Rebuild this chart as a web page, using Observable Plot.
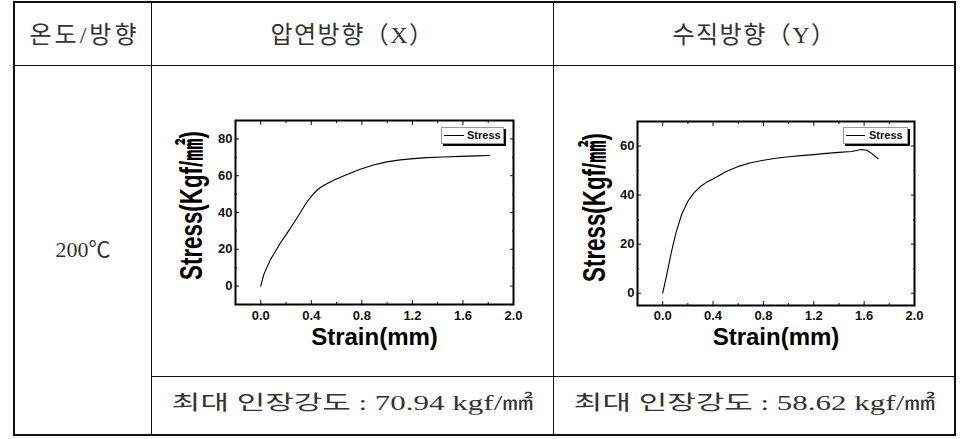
<!DOCTYPE html>
<html><head><meta charset="utf-8">
<script src="https://cdn.jsdelivr.net/npm/d3@7"></script>
<script src="https://cdn.jsdelivr.net/npm/@observablehq/plot@0.6"></script>
<style>
body{margin:0;background:#fff;width:977px;height:439px;overflow:hidden;position:relative;}
.ln{position:absolute;background:#111;}
.cell{position:absolute;display:flex;align-items:center;justify-content:center;font-family:"Liberation Serif","Noto Sans CJK KR",serif;color:#333;white-space:nowrap;}
.chart{position:absolute;overflow:visible;}
.legend{position:absolute;height:15px;border:1px solid #999;box-shadow:2px 2px 0 #000;background:#fff;font:bold 11px "Liberation Sans",sans-serif;color:#111;}
.legend .sw{position:absolute;top:7px;height:1px;background:#000;}
.legend .tx{position:absolute;top:0;line-height:15px;}
</style></head><body>
<div id="root"></div>
<script>
// ---- data ----
const headers = ["온도/방향", "압연방향（X）", "수직방향（Y）"];
const rowLabel = "200℃";
const captions = ["최대 인장강도 : 70.94 kgf/㎟", "최대 인장강도 : 58.62 kgf/㎟"];
const xTicks = [0, 0.4, 0.8, 1.2, 1.6, 2.0];
const xMinor = [-0.2, 0.2, 0.6, 1.0, 1.4, 1.8];
const yTicksX = [0, 20, 40, 60, 80];
const yMinorX = [-10, 10, 30, 50, 70, 90];
const yTicksY = [0, 20, 40, 60];
const yMinorY = [10, 30, 50, 70];
const strainX = [0, 0.024, 0.076, 0.1, 0.155, 0.2, 0.234, 0.3, 0.366, 0.405, 0.45, 0.5, 0.576, 0.682, 0.787, 0.892, 0.997, 1.103, 1.208, 1.313, 1.445, 1.576, 1.708, 1.81];
const stressX = [0, 6.3, 14.4, 17, 23.4, 28, 31.4, 38.5, 45.8, 49.2, 52.5, 54.8, 57.5, 60.7, 63.5, 65.8, 67.5, 68.6, 69.3, 69.8, 70.2, 70.5, 70.8, 70.94];
const strainY = [0, 0.03, 0.07, 0.105, 0.15, 0.2, 0.25, 0.3, 0.35, 0.4, 0.5, 0.6, 0.7, 0.8, 0.9, 1.0, 1.1, 1.2, 1.3, 1.4, 1.5, 1.58, 1.62, 1.66, 1.71];
const stressY = [0, 7, 17, 24.5, 32, 37.5, 41, 43.5, 45.3, 46.6, 49.5, 51.7, 53.2, 54.2, 55, 55.6, 56.1, 56.5, 57, 57.4, 57.8, 58.62, 58.3, 57, 54.8];

const root = document.getElementById("root");
function line(l, t, w, h) {
  const d = document.createElement("div"); d.className = "ln";
  Object.assign(d.style, {left: l + "px", top: t + "px", width: w + "px", height: h + "px"});
  root.appendChild(d);
}
function cell(text, l, t, w, h, fs, extra) {
  const d = document.createElement("div"); d.className = "cell";
  Object.assign(d.style, {left: l + "px", top: t + "px", width: w + "px", height: h + "px", fontSize: fs + "px"});
  const s = document.createElement("span"); s.textContent = text;
  Object.assign(s.style, extra || {});
  d.appendChild(s);
  root.appendChild(d);
  return s;
}
// table lines
line(13, 1, 943, 2);   // top
line(13, 434, 943, 2); // bottom
line(13, 1, 2, 435);   // left
line(954, 1, 2, 435);  // right
line(13, 65, 943, 1);
line(151, 1, 1, 435);
line(553, 1, 1, 435);
line(151, 376, 805, 1);
// texts
cell(headers[0], 15, 12, 136, 40, 24, {letterSpacing: "3px", marginRight: "-3px"});
cell(headers[1], 152, 12, 401, 40, 24, {letterSpacing: "1.5px"});
cell(headers[2], 554, 12, 401, 40, 24, {letterSpacing: "1.5px"});
cell(rowLabel, 15, 227, 136, 40, 22);
const c1 = cell(captions[0], 152, 381, 401, 40, 20);
const c2 = cell(captions[1], 554, 381, 401, 40, 20);
[c1, c2].forEach(s => { s.style.display = "inline-block"; s.style.transform = "scaleX(1.55)"; });

function chart(strain, stress, yDomain, yTicks, yMinor, pos, m, labelShift, pad) {
  const data = strain.map((s, i) => ({strain: s, stress: stress[i]}));
  const svg = Plot.plot({
    width: 380, height: 260,
    marginLeft: m[0], marginRight: m[1], marginTop: m[2], marginBottom: m[3],
    x: {domain: [-0.2, 2.0]},
    y: {domain: yDomain},
    style: {fontFamily: "Liberation Sans, sans-serif", fontSize: "12px", fontWeight: "bold", color: "#111", background: "transparent"},
    marks: [
      Plot.axisX(xTicks, {anchor: "bottom", tickSize: -4, tickPadding: pad, tickFormat: d3.format(".1f"), fontSize: 13, fontWeight: "bold", label: null}),
      Plot.axisX(xMinor, {anchor: "bottom", tickSize: -2, tickFormat: () => "", label: null}),
      Plot.axisX(xTicks, {anchor: "top", tickSize: -4, tickFormat: () => "", label: null}),
      Plot.axisX(xMinor, {anchor: "top", tickSize: -2, tickFormat: () => "", label: null}),
      Plot.axisY(yTicks, {anchor: "left", tickSize: -4, tickPadding: 7, fontSize: 13, fontWeight: "bold", label: null}),
      Plot.axisY(yMinor, {anchor: "left", tickSize: -2, tickFormat: () => "", label: null}),
      Plot.axisY(yTicks, {anchor: "right", tickSize: -4, tickFormat: () => "", label: null}),
      Plot.axisY(yMinor, {anchor: "right", tickSize: -2, tickFormat: () => "", label: null}),
      Plot.frame({stroke: "#000", strokeWidth: 2}),
      Plot.line(data, {x: "strain", y: "stress", stroke: "#000", strokeWidth: 1.1}),
      Plot.text(["Strain(mm)"], {text: d => d, frameAnchor: "bottom", textAnchor: "middle", lineAnchor: "middle", dy: labelShift[0], fontSize: 24, fontWeight: "bold", fill: "#000"}),
      Plot.text(["Stress(Kgf/㎟)"], {text: d => d, frameAnchor: "left", textAnchor: "middle", lineAnchor: "middle", rotate: -90, dx: labelShift[1], dy: labelShift[2], fontSize: 31, fontWeight: "bold", fill: "#000", fontFamily: "Liberation Sans, Noto Sans CJK KR, sans-serif"})
    ]
  });
  svg.classList.add("chart");
  svg.style.left = pos[0] + "px"; svg.style.top = pos[1] + "px";
  svg.querySelectorAll("text").forEach(t => {
    if (t.textContent === "Stress(Kgf/㎟)") {
      t.setAttribute("transform", (t.getAttribute("transform") || "") + " scale(0.72,1)");
    }
  });
  root.appendChild(svg);
}
chart(strainX, stressX, [-10, 90], yTicksX, yMinorX, [160, 100], [75, 27, 20, 56], [33, -43, -7], 10);
chart(strainY, stressY, [-5, 70], yTicksY, yMinorY, [570, 100], [67, 36, 21, 55], [32, -42, -6], 9);

function legend(l, t, w, swL, swW, txL) {
  const d = document.createElement("div"); d.className = "legend";
  Object.assign(d.style, {left: l + "px", top: t + "px", width: w + "px"});
  const sw = document.createElement("div"); sw.className = "sw";
  Object.assign(sw.style, {left: swL + "px", width: swW + "px"});
  const tx = document.createElement("div"); tx.className = "tx"; tx.textContent = "Stress";
  tx.style.left = txL + "px";
  d.appendChild(sw); d.appendChild(tx); root.appendChild(d);
}
legend(441, 127, 61, 2, 20, 25);
legend(843, 127, 63, 2, 19, 25);
</script>
</body></html>
